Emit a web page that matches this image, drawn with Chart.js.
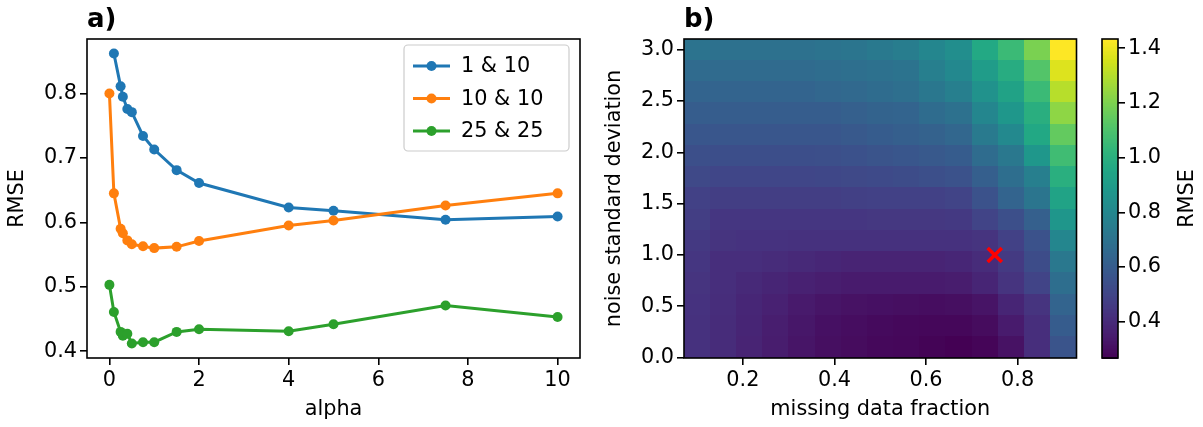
<!DOCTYPE html>
<html lang="en">
<head>
<meta charset="UTF-8">
<title>RMSE vs alpha and missing data</title>
<script src="https://cdn.jsdelivr.net/npm/chart.js"></script>
<style>
  body { margin: 0; background: #fff; }
  .wrap { position: relative; width: 1203px; height: 427px; overflow: hidden; }
  .wrap canvas { position: absolute; top: 0; }
  #lineChart { left: 0; }
  #heatChart { left: 600px; }
  #barChart { left: 1090px; }
</style>
</head>
<body>
<div class="wrap">
  <canvas id="lineChart" width="600" height="427"></canvas>
  <canvas id="heatChart" width="490" height="427"></canvas>
  <canvas id="barChart" width="113" height="427"></canvas>
</div>
<script>
// ---- panel a) data ----
const alphaValues = [0, 0.1, 0.25, 0.3, 0.4, 0.5, 0.75, 1, 1.5, 2, 4, 5, 7.5, 10];
const seriesLabels = ['1 & 10', '10 & 10', '25 & 25'];
const rmse_1_10  = [null, 0.862, 0.811, 0.795, 0.776, 0.771, 0.734, 0.713, 0.681, 0.661, 0.623, 0.618, 0.604, 0.609];
const rmse_10_10 = [0.800, 0.645, 0.590, 0.583, 0.572, 0.566, 0.563, 0.560, 0.562, 0.571, 0.595, 0.603, 0.626, 0.645];
const rmse_25_25 = [0.503, 0.461, 0.430, 0.424, 0.427, 0.412, 0.414, 0.414, 0.430, 0.434, 0.431, 0.442, 0.471, 0.453];
const alphaTicks = [0, 2, 4, 6, 8, 10];
const rmseTicks = [0.4, 0.5, 0.6, 0.7, 0.8];

// ---- panel b) data ----
const missingFractions = [0.1, 0.157, 0.214, 0.271, 0.329, 0.386, 0.443, 0.5, 0.557, 0.614, 0.671, 0.729, 0.786, 0.843, 0.9];
// rows from top (3.0) to bottom (0.1)
const noiseLevels = [3.0, 2.793, 2.586, 2.379, 2.171, 1.964, 1.757, 1.55, 1.343, 1.136, 0.929, 0.721, 0.514, 0.307, 0.1];
const rmseGrid = [
  [0.71, 0.70, 0.70, 0.70, 0.70, 0.71, 0.72, 0.74, 0.76, 0.80, 0.84, 0.97, 1.06, 1.20, 1.434],
  [0.67, 0.67, 0.67, 0.67, 0.67, 0.68, 0.69, 0.70, 0.71, 0.77, 0.81, 0.91, 0.99, 1.12, 1.376],
  [0.64, 0.64, 0.64, 0.64, 0.64, 0.65, 0.66, 0.675, 0.69, 0.73, 0.77, 0.86, 0.94, 1.06, 1.31],
  [0.61, 0.61, 0.61, 0.61, 0.61, 0.61, 0.62, 0.635, 0.64, 0.675, 0.70, 0.80, 0.885, 1.00, 1.236],
  [0.58, 0.58, 0.58, 0.58, 0.58, 0.58, 0.59, 0.605, 0.615, 0.63, 0.65, 0.745, 0.815, 0.967, 1.154],
  [0.55, 0.545, 0.545, 0.545, 0.545, 0.55, 0.555, 0.57, 0.58, 0.59, 0.605, 0.675, 0.734, 0.885, 1.072],
  [0.52, 0.51, 0.51, 0.51, 0.51, 0.515, 0.52, 0.525, 0.535, 0.547, 0.56, 0.617, 0.687, 0.77, 1.002],
  [0.49, 0.48, 0.48, 0.48, 0.48, 0.48, 0.485, 0.49, 0.49, 0.49, 0.50, 0.56, 0.64, 0.72, 0.944],
  [0.48, 0.45, 0.45, 0.45, 0.45, 0.45, 0.45, 0.455, 0.455, 0.455, 0.46, 0.50, 0.55, 0.62, 0.88],
  [0.46, 0.44, 0.435, 0.435, 0.43, 0.43, 0.43, 0.43, 0.43, 0.43, 0.43, 0.44, 0.49, 0.56, 0.80],
  [0.45, 0.42, 0.42, 0.41, 0.40, 0.39, 0.38, 0.38, 0.38, 0.38, 0.39, 0.41, 0.465, 0.535, 0.734],
  [0.44, 0.42, 0.40, 0.385, 0.37, 0.36, 0.35, 0.35, 0.35, 0.35, 0.355, 0.384, 0.44, 0.50, 0.687],
  [0.435, 0.415, 0.39, 0.37, 0.345, 0.33, 0.32, 0.315, 0.31, 0.305, 0.31, 0.325, 0.384, 0.44, 0.64],
  [0.43, 0.41, 0.385, 0.36, 0.335, 0.315, 0.305, 0.295, 0.29, 0.285, 0.285, 0.30, 0.35, 0.42, 0.605],
  [0.43, 0.41, 0.38, 0.355, 0.33, 0.31, 0.30, 0.29, 0.285, 0.275, 0.267, 0.28, 0.32, 0.42, 0.57]
];
const bestX = [0.75];
const bestY = [1.0];
const fractionTicks = [0.2, 0.4, 0.6, 0.8];
const noiseTicks = [0, 0.5, 1.0, 1.5, 2.0, 2.5, 3.0];
const colorbarTicks = [0.4, 0.6, 0.8, 1.0, 1.2, 1.4];

// ---- look ----
Chart.defaults.font.family = "'DejaVu Sans', sans-serif";
Chart.defaults.font.size = 20.8;
Chart.defaults.color = '#000';
const seriesColors = ['#1f77b4', '#ff7f0e', '#2ca02c'];
const viridisStops = ['#440154', '#481a6c', '#472f7d', '#414487', '#39568c', '#31688e', '#2a788e', '#23888e',
                      '#1f988b', '#22a884', '#35b779', '#54c568', '#7ad151', '#a5db36', '#d2e21b', '#fde725'];

function hexToRgb(h) {
  return [parseInt(h.slice(1, 3), 16), parseInt(h.slice(3, 5), 16), parseInt(h.slice(5, 7), 16)];
}
const viridisRgb = viridisStops.map(hexToRgb);
function viridis(t) {
  t = Math.min(1, Math.max(0, t));
  const pos = t * (viridisRgb.length - 1);
  const i = Math.min(Math.floor(pos), viridisRgb.length - 2);
  const f = pos - i;
  const a = viridisRgb[i], b = viridisRgb[i + 1];
  return 'rgb(' + [0, 1, 2].map(k => Math.round(a[k] + (b[k] - a[k]) * f)).join(',') + ')';
}

const allValues = rmseGrid.flat();
const vmin = Math.min(...allValues);
const vmax = Math.max(...allValues);

function fixedTicks(list) {
  return scale => { scale.ticks = list.map(v => ({ value: v })); };
}
function axisStyle(list, digits) {
  return {
    afterBuildTicks: fixedTicks(list),
    grid: { drawOnChartArea: false, drawTicks: true, tickLength: 7, color: '#000', lineWidth: 1.6 },
    border: { display: false },
    ticks: { padding: 3, callback: v => Number(v).toFixed(digits) }
  };
}

// black box round the plot area, like the matplotlib spines
const framePlugin = {
  id: 'frame',
  afterDatasetsDraw(chart) {
    const a = chart.chartArea, ctx = chart.ctx;
    ctx.save();
    ctx.strokeStyle = '#000';
    ctx.lineWidth = 1.6;
    ctx.strokeRect(a.left, a.top, a.right - a.left, a.bottom - a.top);
    ctx.restore();
  }
};

// bold panel letter at the top-left of the axes
const panelTitlePlugin = {
  id: 'panelTitle',
  afterDraw(chart, args, opts) {
    if (!opts.text) return;
    const ctx = chart.ctx;
    ctx.save();
    ctx.font = "bold 26px 'DejaVu Sans', sans-serif";
    ctx.fillStyle = '#000';
    ctx.textBaseline = 'alphabetic';
    ctx.fillText(opts.text, chart.chartArea.left, chart.chartArea.top - 12.5);
    ctx.restore();
  }
};

// legend box in the upper right, line + marker handles
const legendPlugin = {
  id: 'mplLegend',
  afterDatasetsDraw(chart) {
    const a = chart.chartArea, ctx = chart.ctx;
    const w = 165, h = 106;
    const x0 = a.right - 11 - w, y0 = a.top + 6;
    ctx.save();
    ctx.beginPath();
    ctx.roundRect(x0, y0, w, h, 4);
    ctx.fillStyle = 'rgba(255,255,255,0.8)';
    ctx.fill();
    ctx.strokeStyle = '#cccccc';
    ctx.lineWidth = 1.2;
    ctx.stroke();
    ctx.font = "20.8px 'DejaVu Sans', sans-serif";
    ctx.textBaseline = 'middle';
    chart.data.datasets.forEach((ds, k) => {
      const y = y0 + 21 + k * 32.5;
      ctx.strokeStyle = ds.borderColor;
      ctx.lineWidth = 3;
      ctx.beginPath();
      ctx.moveTo(x0 + 9, y);
      ctx.lineTo(x0 + 46, y);
      ctx.stroke();
      ctx.fillStyle = ds.borderColor;
      ctx.beginPath();
      ctx.arc(x0 + 27.5, y, 5, 0, Math.PI * 2);
      ctx.fill();
      ctx.fillStyle = '#000';
      ctx.fillText(ds.label, x0 + 57, y + 1);
    });
    ctx.restore();
  }
};

// heatmap cells, drawn through the chart's scales
const heatPlugin = {
  id: 'heatCells',
  beforeDatasetsDraw(chart) {
    const xs = chart.scales.x, ys = chart.scales.y, ctx = chart.ctx;
    const cells = chart.data.datasets[0].data;
    const halfW = (missingFractions[1] - missingFractions[0]) / 2;
    const halfH = (noiseLevels[0] - noiseLevels[1]) / 2;
    ctx.save();
    cells.forEach(c => {
      const x0 = xs.getPixelForValue(c.x - halfW), x1 = xs.getPixelForValue(c.x + halfW);
      const y0 = ys.getPixelForValue(c.y + halfH), y1 = ys.getPixelForValue(c.y - halfH);
      ctx.fillStyle = viridis((c.v - vmin) / (vmax - vmin));
      ctx.fillRect(Math.floor(x0), Math.floor(y0), Math.ceil(x1) - Math.floor(x0), Math.ceil(y1) - Math.floor(y0));
    });
    ctx.restore();
  }
};

// colour bar strip and its rotated label
const colorbarPlugin = {
  id: 'colorbar',
  beforeDatasetsDraw(chart) {
    const ys = chart.scales.y, a = chart.chartArea, ctx = chart.ctx;
    const steps = 240;
    ctx.save();
    for (let i = 0; i < steps; i++) {
      const v0 = vmin + (vmax - vmin) * i / steps;
      const v1 = vmin + (vmax - vmin) * (i + 1) / steps;
      const p0 = ys.getPixelForValue(v0), p1 = ys.getPixelForValue(v1);
      ctx.fillStyle = viridis(((v0 + v1) / 2 - vmin) / (vmax - vmin));
      ctx.fillRect(a.left, Math.floor(p1), a.right - a.left, Math.ceil(p0) - Math.floor(p1) + 1);
    }
    ctx.restore();
  },
  afterDraw(chart) {
    const a = chart.chartArea, ctx = chart.ctx;
    ctx.save();
    ctx.translate(98, (a.top + a.bottom) / 2);
    ctx.rotate(-Math.PI / 2);
    ctx.font = "20.8px 'DejaVu Sans', sans-serif";
    ctx.fillStyle = '#000';
    ctx.textAlign = 'center';
    ctx.textBaseline = 'middle';
    ctx.fillText('RMSE', 0, 0);
    ctx.restore();
  }
};

// ---- a) RMSE against alpha ----
const seriesValues = [rmse_1_10, rmse_10_10, rmse_25_25];
function toPoints(ys) {
  return alphaValues.map((x, i) => ({ x: x, y: ys[i] })).filter(p => p.y !== null);
}

new Chart(document.getElementById('lineChart'), {
  type: 'line',
  data: {
    datasets: seriesLabels.map((label, k) => ({
      label: label,
      data: toPoints(seriesValues[k]),
      borderColor: seriesColors[k],
      backgroundColor: seriesColors[k],
      pointBackgroundColor: seriesColors[k],
      pointBorderColor: seriesColors[k],
      borderWidth: 3,
      pointRadius: 5,
      pointBorderWidth: 0,
      tension: 0,
      order: seriesLabels.length - k
    }))
  },
  options: {
    responsive: false,
    animation: false,
    layout: { padding: { top: 39, right: 20, bottom: 0, left: 0 } },
    plugins: { legend: { display: false }, tooltip: { enabled: false }, panelTitle: { text: 'a)' } },
    scales: {
      x: Object.assign(axisStyle(alphaTicks, 0), {
        type: 'linear', min: -0.5, max: 10.5,
        afterFit: s => { s.height = 69; },
        title: { display: true, text: 'alpha', padding: { top: 0, bottom: 5 } }
      }),
      y: Object.assign(axisStyle(rmseTicks, 1), {
        type: 'linear', min: 0.3895, max: 0.8845,
        afterFit: s => { s.width = 87; },
        title: { display: true, text: 'RMSE', padding: { top: 5, bottom: 0 } }
      })
    }
  },
  plugins: [framePlugin, panelTitlePlugin, legendPlugin]
});

// ---- b) RMSE over missing fraction and noise ----
const cellData = [];
noiseLevels.forEach((yv, r) => {
  missingFractions.forEach((xv, c) => { cellData.push({ x: xv, y: yv, v: rmseGrid[r][c] }); });
});

new Chart(document.getElementById('heatChart'), {
  type: 'scatter',
  data: {
    datasets: [
      { label: 'RMSE', data: cellData, pointRadius: 0, pointHoverRadius: 0 },
      { label: 'chosen', data: bestX.map((x, i) => ({ x: x, y: bestY[i] })),
        pointStyle: 'crossRot', pointRadius: 10, pointBorderWidth: 3.5,
        pointBorderColor: '#ff0000', pointBackgroundColor: '#ff0000' }
    ]
  },
  options: {
    responsive: false,
    animation: false,
    layout: { padding: { top: 39, right: 12, bottom: 0, left: 0 } },
    plugins: { legend: { display: false }, tooltip: { enabled: false }, panelTitle: { text: 'b)' } },
    scales: {
      x: Object.assign(axisStyle(fractionTicks, 1), {
        type: 'linear', min: 0.0714, max: 0.9286,
        afterFit: s => { s.height = 69; },
        title: { display: true, text: 'missing data fraction', padding: { top: 0, bottom: 5 } }
      }),
      y: Object.assign(axisStyle(noiseTicks, 1), {
        type: 'linear', min: -0.0036, max: 3.1036,
        afterFit: s => { s.width = 84; },
        title: { display: true, text: 'noise standard deviation', padding: { top: 2.5, bottom: 0 } }
      })
    }
  },
  plugins: [heatPlugin, framePlugin, panelTitlePlugin]
});

// ---- colour bar ----
new Chart(document.getElementById('barChart'), {
  type: 'scatter',
  data: { datasets: [{ label: 'scale', data: [] }] },
  options: {
    responsive: false,
    animation: false,
    layout: { padding: { top: 39, right: 0, bottom: 69, left: 12 } },
    plugins: { legend: { display: false }, tooltip: { enabled: false } },
    scales: {
      x: { type: 'linear', display: false, min: 0, max: 1 },
      y: Object.assign(axisStyle(colorbarTicks, 1), {
        type: 'linear', position: 'right', min: vmin, max: vmax,
        afterFit: s => { s.width = 85; }
      })
    }
  },
  plugins: [colorbarPlugin, framePlugin]
});
</script>
</body>
</html>
